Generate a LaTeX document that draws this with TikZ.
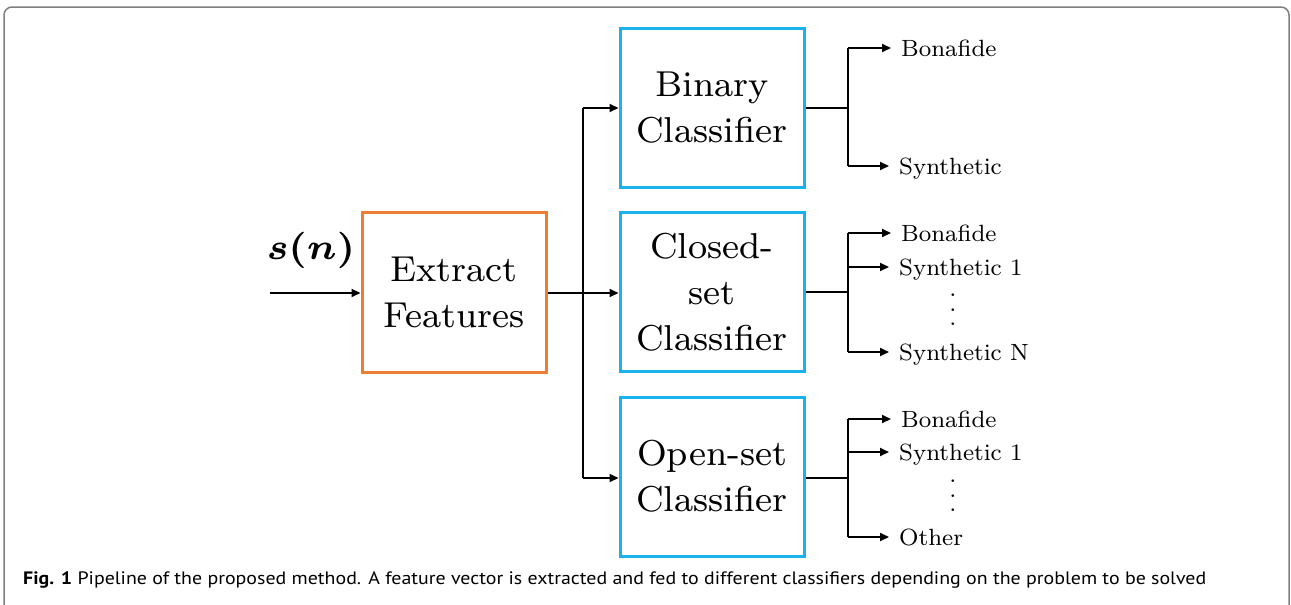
\documentclass[tikz,border=0pt]{standalone}
\usepackage{fontspec}
\usepackage{amsmath,bm}
\usepackage{graphicx}
\newfontfamily\capfont{PT Sans}
\newfontfamily\lmsev{lmroman8-regular.otf}
\usetikzlibrary{arrows.meta}
\definecolor{boxorange}{HTML}{ED7D31}
\definecolor{boxblue}{HTML}{1BB0EE}
\definecolor{framegray}{HTML}{7F7F7F}
\newcommand{\mydots}{\vbox{\baselineskip14.5pt\lineskiplimit0pt\hbox{.}\hbox{.}\hbox{.}}}
\tikzset{
  procbox/.style={draw=#1, line width=3pt, minimum width=184pt, inner sep=0pt, align=center,
    font=\lmsev\fontsize{36}{46}\selectfont},
  conn/.style={line width=2pt},
  arr/.style={line width=2pt, -{Triangle[length=9pt,width=8pt]}},
  outlbl/.style={anchor=west, inner ysep=0pt, inner xsep=10pt, text height=16.5pt, text depth=0pt,
    font=\lmsev\fontsize{23.5}{28}\selectfont},
  vdotsnode/.style={inner sep=0pt, font=\lmsev\fontsize{24}{28}\selectfont}
}
\begin{document}
\begin{tikzpicture}[x=1pt,y=-1pt]
\useasboundingbox (0,0) rectangle (1291,605);
\draw[framegray, line width=1.5pt, rounded corners=8pt] (4,7) -- (1289,7) -- (1289,640) -- (4,640) -- cycle;

% boxes
\node[procbox=boxorange, minimum height=160pt] (ef) at (454,292) {Extract\\Features};
\node[procbox=boxblue, minimum height=159pt] (bin) at (712,107.5) {Binary\\Classifier};
\node[procbox=boxblue, minimum height=159pt] (clo) at (712,292) {Closed-\\set\\Classifier};
\node[procbox=boxblue, minimum height=159pt] (opn) at (712,476.5) {Open-set\\Classifier};

% input
\coordinate (in) at (270,293);
\node[inner sep=0pt] (sn) at (311,250) {\scalebox{5.2}{\fontsize{7}{8}\selectfont$\bm{s(n)}$}};
\draw[arr] (in) -- (ef.west |- in);

% bus
\coordinate (bus) at (583,293);
\coordinate (bustop) at (583,108);
\coordinate (busbot) at (583,478);
\draw[conn] (ef.east |- bus) -- (bus);
\draw[conn] (bustop) -- (busbot);
\draw[arr] (bustop) -- (bin.west |- bustop);
\draw[arr] (bus) -- (clo.west |- bus);
\draw[arr] (busbot) -- (opn.west |- busbot);

% binary outputs
\node[outlbl] (b1) at (891,48) {Bonafide};
\node[outlbl] (b2) at (889,166) {Synthetic};
\coordinate (bj) at (848,108);
\draw[conn] (bin.east |- bj) -- (bj);
\draw[conn] (848,48) -- (848,166);
\draw[arr] (848,48) -- (b1.west);
\draw[arr] (848,166) -- (b2.west);

% closed-set outputs
\node[outlbl] (c1) at (891,233) {Bonafide};
\node[outlbl] (c2) at (889,267) {Synthetic 1};
\node[outlbl] (c3) at (889,352) {Synthetic N};
\node[vdotsnode] (cd) at (953,310) {\mydots};
\coordinate (cj) at (848,292);
\draw[conn] (clo.east |- cj) -- (cj);
\draw[conn] (848,233) -- (848,352);
\draw[arr] (848,233) -- (c1.west);
\draw[arr] (848,267) -- (c2.west);
\draw[arr] (848,352) -- (c3.west);

% open-set outputs
\node[outlbl] (o1) at (891,419) {Bonafide};
\node[outlbl] (o2) at (889,452) {Synthetic 1};
\node[outlbl] (o3) at (889,537) {Other};
\node[vdotsnode] (od) at (953,496) {\mydots};
\coordinate (oj) at (848,478);
\draw[conn] (opn.east |- oj) -- (oj);
\draw[conn] (848,419) -- (848,537);
\draw[arr] (848,419) -- (o1.west);
\draw[arr] (848,452) -- (o2.west);
\draw[arr] (848,537) -- (o3.west);

% caption
\node[anchor=base west, inner sep=0pt] (cap) at (23,584)
  {\resizebox{1183pt}{\height}{\capfont\fontsize{18}{20}\selectfont\textbf{Fig. 1} Pipeline of the proposed method. A feature vector is extracted and fed to different classifiers depending on the problem to be solved}};
\end{tikzpicture}
\end{document}
